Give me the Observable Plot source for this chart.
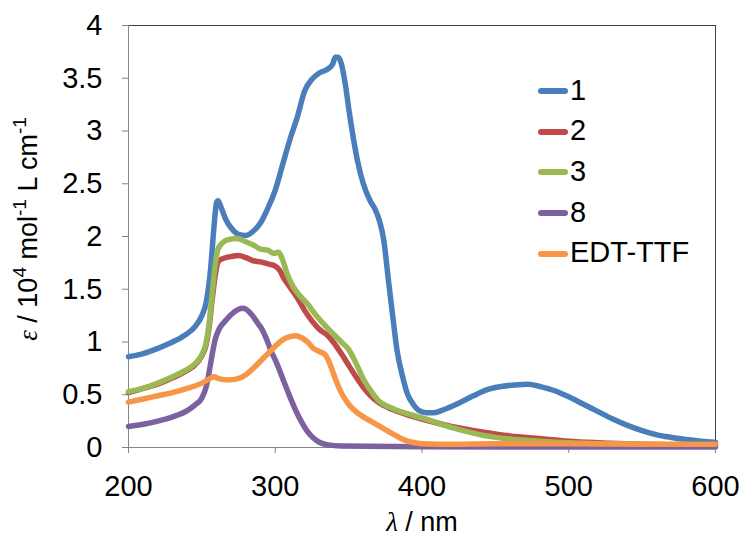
<!DOCTYPE html>
<html><head><meta charset="utf-8">
<script src="https://cdn.jsdelivr.net/npm/d3@7"></script>
<script src="https://cdn.jsdelivr.net/npm/@observablehq/plot@0.6"></script>
<style>
body{margin:0;background:#fff;font-family:"Liberation Sans",Arial,sans-serif;}
#chart{position:relative;width:739px;height:540px;}
#legend{position:absolute;left:538px;top:70px;}
.item{display:flex;align-items:center;height:40.6px;font-size:29px;color:#000;}
.sw{width:30px;height:6px;border-radius:3px;margin-right:2px;margin-top:2px;}
</style></head><body><div id="chart"><div id="legend"></div></div>
<script>
const seriesNames = ["1", "2", "3", "8", "EDT-TTF"];
const seriesColors = ["#4a7ebb", "#be4b48", "#98b954", "#7d60a0", "#f79646"];
const xTicks = [200, 300, 400, 500, 600];
const yTicks = [0, 0.5, 1, 1.5, 2, 2.5, 3, 3.5, 4];

const wl1  = [200,210,220,230,240,245,250,253,256,258,260,261,263,266,270,275,280,285,290,295,300,305,310,315,320,325,330,335,339,341,343,345,348,350,353,356,360,365,368,371,374,377,380,383,387,390,394,398,403,408,415,425,435,445,455,465,472,480,490,500,510,520,530,540,550,560,570,580,590,600];
const eps1 = [0.86,0.89,0.94,1.00,1.08,1.14,1.25,1.38,1.70,2.05,2.32,2.34,2.28,2.17,2.08,2.02,2.01,2.05,2.13,2.27,2.44,2.68,2.92,3.13,3.38,3.49,3.55,3.58,3.63,3.70,3.70,3.64,3.42,3.22,2.95,2.72,2.50,2.33,2.26,2.15,1.96,1.60,1.25,0.92,0.66,0.51,0.41,0.35,0.33,0.33,0.36,0.42,0.49,0.55,0.58,0.595,0.60,0.58,0.54,0.48,0.41,0.34,0.27,0.21,0.16,0.12,0.095,0.075,0.06,0.05];

const wl2  = [200,210,220,230,240,245,250,253,255,257,259,261,264,270,275,280,285,290,295,300,303,306,310,315,320,325,330,335,340,345,350,355,360,365,370,380,390,400,420,440,460,480,500,520,550,600];
const eps2 = [0.52,0.56,0.60,0.66,0.73,0.78,0.87,0.98,1.15,1.40,1.62,1.76,1.79,1.81,1.82,1.80,1.77,1.76,1.74,1.72,1.68,1.60,1.52,1.42,1.30,1.20,1.12,1.07,0.99,0.89,0.78,0.67,0.57,0.49,0.43,0.36,0.31,0.27,0.20,0.15,0.11,0.085,0.06,0.045,0.03,0.02];

const wl3  = [200,210,220,230,240,245,250,253,255,257,259,261,264,268,274,280,285,290,295,299,302,305,308,312,316,322,328,335,340,345,350,355,360,365,370,380,390,400,420,440,460,480,500,550,600];
const eps3 = [0.53,0.56,0.61,0.67,0.74,0.79,0.88,1.00,1.18,1.45,1.72,1.88,1.94,1.97,1.98,1.95,1.92,1.88,1.87,1.84,1.85,1.78,1.65,1.53,1.45,1.36,1.25,1.14,1.07,1.00,0.93,0.80,0.65,0.54,0.45,0.37,0.32,0.28,0.19,0.12,0.08,0.06,0.045,0.03,0.02];

const wl8  = [200,210,220,230,240,245,250,253,255,257,259,262,266,270,275,278,282,285,288,291,294,297,300,303,306,310,314,318,322,326,330,336,345,400,500,600];
const eps8 = [0.20,0.22,0.25,0.29,0.35,0.40,0.47,0.58,0.72,0.88,1.02,1.13,1.20,1.26,1.31,1.32,1.29,1.24,1.18,1.12,1.03,0.92,0.83,0.73,0.62,0.48,0.35,0.24,0.15,0.09,0.05,0.025,0.015,0.008,0.005,0.005];

const wlE  = [200,210,220,230,240,250,255,258,262,268,274,280,285,290,295,300,305,310,314,318,322,326,330,334,337,341,345,350,355,360,365,370,375,380,385,390,395,400,420,450,500,550,600];
const epsE = [0.43,0.46,0.49,0.52,0.56,0.61,0.65,0.67,0.65,0.64,0.65,0.69,0.75,0.82,0.89,0.96,1.02,1.05,1.06,1.04,1.00,0.94,0.91,0.88,0.80,0.65,0.52,0.41,0.34,0.29,0.25,0.21,0.17,0.13,0.09,0.06,0.045,0.035,0.03,0.035,0.035,0.03,0.03];

const seriesData = [[wl1, eps1], [wl2, eps2], [wl3, eps3], [wl8, eps8], [wlE, epsE]];
const rows = [];
seriesData.forEach(([w, e], i) => w.forEach((x, j) => rows.push({series: seriesNames[i], wl: x, eps: e[j]})));

const axisGray = "#868686";
const chart = Plot.plot({
  width: 739, height: 540,
  marginLeft: 128, marginRight: 24, marginTop: 25, marginBottom: 93,
  style: {fontFamily: "'Liberation Sans', Arial, sans-serif", fontSize: "29px", color: "#000", background: "#fff"},
  x: {domain: [200, 600]},
  y: {domain: [0, 4]},
  color: {domain: seriesNames, range: seriesColors},
  marks: [
    Plot.ruleY([4], {stroke: "#404040", strokeWidth: 1}),
    Plot.ruleX([600], {stroke: "#404040", strokeWidth: 1}),
    Plot.ruleX([200], {stroke: axisGray, strokeWidth: 1}),
    Plot.ruleY([0], {stroke: axisGray, strokeWidth: 1}),
    Plot.axisY({ticks: yTicks, tickSize: 6, tickPadding: 20, stroke: axisGray, fill: "#000", label: null, tickFormat: d => String(d), fontSize: 29}),
    Plot.axisX({ticks: xTicks, tickSize: 6, tickPadding: 22, stroke: axisGray, fill: "#000", label: null, tickFormat: d => String(d), fontSize: 29}),
    Plot.line(rows, {x: "wl", y: "eps", z: "series", stroke: "series", strokeWidth: 5.5, curve: "monotone-x", strokeLinejoin: "round", strokeLinecap: "round"})
  ]
});
const holder = document.getElementById("chart");
holder.insertBefore(chart, holder.firstChild);

const svg = d3.select(chart);
const ylab = svg.append("text")
  .attr("transform", "translate(37,229) rotate(-90)")
  .attr("text-anchor", "middle")
  .attr("font-size", 27)
  .attr("fill", "#000");
ylab.append("tspan").attr("font-style", "italic").attr("font-family", "'Liberation Serif', serif").text("ε");
ylab.append("tspan").text(" / 10");
ylab.append("tspan").attr("font-size", 19).attr("dy", -11).text("4");
ylab.append("tspan").attr("dy", 11).text(" mol");
ylab.append("tspan").attr("font-size", 19).attr("dy", -11).text("-1");
ylab.append("tspan").attr("dy", 11).text(" L cm");
ylab.append("tspan").attr("font-size", 19).attr("dy", -11).text("-1");

const xlab = svg.append("text")
  .attr("x", 422).attr("y", 531)
  .attr("text-anchor", "middle")
  .attr("font-size", 27)
  .attr("fill", "#000");
xlab.append("tspan").attr("font-style", "italic").attr("font-family", "'Liberation Serif', serif").text("λ");
xlab.append("tspan").text(" / nm");

const legend = d3.select("#legend");
seriesNames.forEach((n, i) => {
  const it = legend.append("div").attr("class", "item");
  it.append("div").attr("class", "sw").style("background", seriesColors[i]);
  it.append("span").text(n);
});
</script></body></html>
